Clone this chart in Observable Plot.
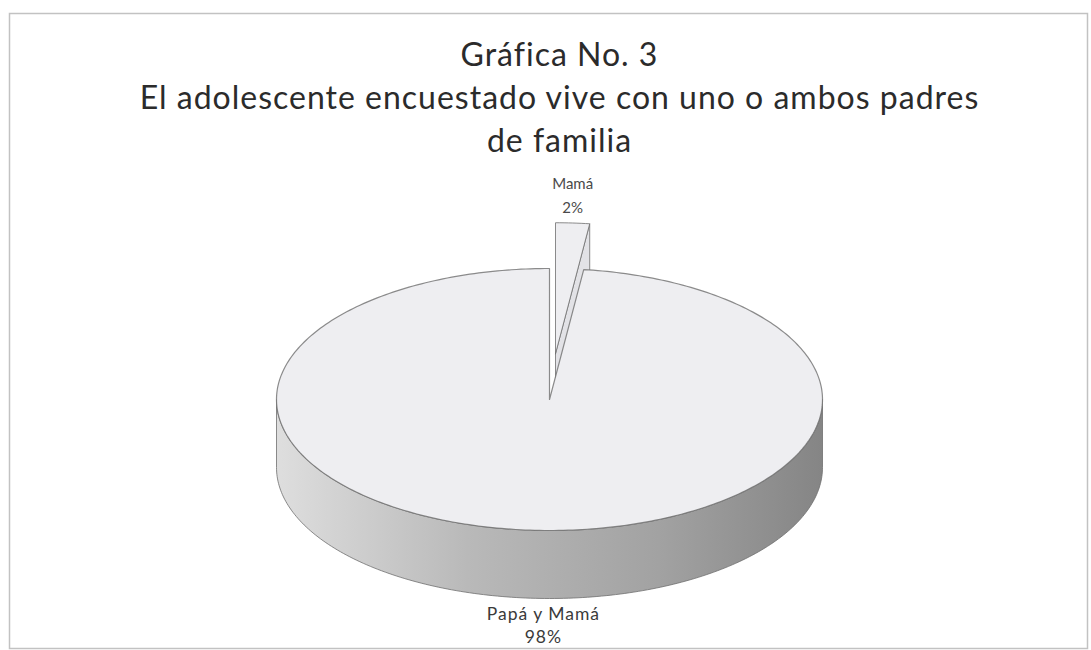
<!DOCTYPE html>
<html><head><meta charset="utf-8">
<script src="https://cdn.jsdelivr.net/npm/d3@7"></script>
<script src="https://cdn.jsdelivr.net/npm/@observablehq/plot@0.6"></script>
<style>
html,body{margin:0;padding:0;background:#fff;}
#chart svg{display:block;}
</style>
</head><body><div id="chart"></div>
<script>
// ---- data ----
const categories = ["Mamá", "Papá y Mamá"];
const values = [2, 98];
const percentLabels = ["2%", "98%"];
const explodeFrac = [0.35, 0];
const titleLines = ["Gráfica No. 3", "El adolescente encuestado vive con uno o ambos padres", "de familia"];

// ---- layout ----
const W = 1091, H = 650;
const cx = 549, cy = 399, rx = 273, ry = 131, depth = 68;
const total = d3.sum(values);
const rad = d => d * Math.PI / 180;

let acc = 0;
const slices = categories.map((c, i) => {
  const a0 = acc / total * 360; acc += values[i];
  const a1 = acc / total * 360;
  const mid = (a0 + a1) / 2;
  const ox = explodeFrac[i] * rx * Math.sin(rad(mid));
  const oy = -explodeFrac[i] * ry * Math.cos(rad(mid));
  return {category: c, value: values[i], label: percentLabels[i], a0, a1, mid, ox, oy};
});
function pt(s, a, r = 1, z = 0) {
  return {x: cx + s.ox + rx * r * Math.sin(rad(a)), y: cy + s.oy - ry * r * Math.cos(rad(a)) + z};
}
function arc(s, from, to, z = 0) {
  const n = Math.max(2, Math.ceil(Math.abs(to - from) / 1));
  return d3.range(n + 1).map(k => pt(s, from + (to - from) * k / n, 1, z));
}
function topFace(s) {
  const apex = pt(s, 0, 0);
  return [apex, ...arc(s, s.a0, s.a1), apex];
}
function sideFace(s) {
  const lo = Math.max(s.a0, 90), hi = Math.min(s.a1, 270);
  if (hi <= lo) return null;
  const top = arc(s, lo, hi), bot = arc(s, hi, lo, depth);
  return [...top, ...bot, top[0]];
}
function radialFace(s, a) {
  const apex = pt(s, 0, 0), o = pt(s, a, 1);
  const p = [apex, o, {x: o.x, y: o.y + depth}, {x: apex.x, y: apex.y + depth}];
  return [...p, p[0]];
}

const small = slices[0], big = slices[1];
const outline = "#6f6f6f";
const topFill = "#eeeef1";

const labelData = slices.map(s => {
  const isBack = Math.cos(rad(s.mid)) > 0;
  const p = pt(s, s.mid, 1, isBack ? 0 : depth);
  return {...s, lx: p.x, ly: p.y, text: s.category + "\n" + s.label, isBack};
});

const titleData = titleLines.map((t, i) => ({t, i}));

const chart = Plot.plot({
  width: W, height: H,
  marginLeft: 9, marginTop: 13, marginRight: 4, marginBottom: 2,
  x: {domain: [0, W], range: [0, W], axis: null},
  y: {domain: [0, H], range: [0, H], axis: null},
  style: {background: "#fff", fontFamily: "Lato, sans-serif"},
  marks: [
    Plot.frame({stroke: "#c2c2c2", strokeWidth: 1.5}),
    // exploded small slice (at the back)
    Plot.line(radialFace(small, small.a1), {x: "x", y: "y", fill: "#e2e2e6", stroke: outline, strokeWidth: 1, strokeOpacity: 0.8}),
    Plot.line(topFace(small), {x: "x", y: "y", fill: topFill, stroke: outline, strokeWidth: 1, strokeOpacity: 0.8}),
    // main slice side
    Plot.line(sideFace(big), {x: "x", y: "y", fill: "url(#sideGrad)", stroke: outline, strokeWidth: 1, strokeOpacity: 0.8}),
    Plot.line(topFace(big), {x: "x", y: "y", fill: topFill, stroke: outline, strokeWidth: 1.2, strokeOpacity: 0.8}),
    // labels
    Plot.text(labelData.filter(d => d.isBack), {x: "lx", y: d => d.ly - 10, text: "text", lineAnchor: "bottom", fontSize: 15, fill: "#4a4a4a", lineHeight: 1.6}),
    Plot.text(labelData.filter(d => !d.isBack), {x: "lx", y: d => d.ly + 6, dx: 11, text: "text", lineAnchor: "top", fontSize: 17.5, fill: "#3a3a3a", lineHeight: 1.3}),
    // titles
    Plot.text(titleData, {x: 559, y: d => 65 + d.i * 43, text: "t", lineAnchor: "bottom", fontSize: 32, fill: "#2b2b2b"})
  ]
});

const svg = d3.select(chart);
const defs = svg.insert("defs", ":first-child");
const g = defs.append("linearGradient").attr("id", "sideGrad").attr("x1", "0").attr("x2", "1").attr("y1", "0").attr("y2", "0");
g.append("stop").attr("offset", "0%").attr("stop-color", "#dedede");
g.append("stop").attr("offset", "35%").attr("stop-color", "#b9b9b9");
g.append("stop").attr("offset", "70%").attr("stop-color", "#a2a2a2");
g.append("stop").attr("offset", "100%").attr("stop-color", "#858585");
svg.selectAll("text").filter(function() { return titleLines.includes(this.textContent); })
  .style("letter-spacing", "1px");
svg.selectAll("text").filter(function() { return this.textContent.startsWith(categories[1]); })
  .style("letter-spacing", "1px");

document.getElementById("chart").appendChild(chart);
</script>
</body></html>
